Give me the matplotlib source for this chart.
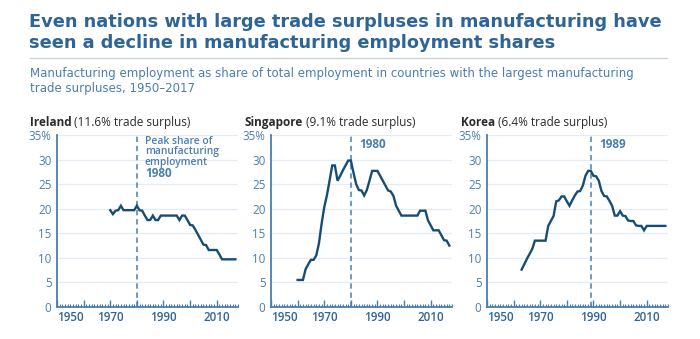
import matplotlib.pyplot as plt
from matplotlib.ticker import MultipleLocator

# data (manufacturing share of total employment, %)
ireland_years = list(range(1970, 2018))
ireland_share = [19.7, 18.9, 19.6, 19.7, 20.6, 19.7, 19.7, 19.7, 19.7, 19.7,
                 20.6, 19.7, 19.6, 18.6, 17.7, 17.7, 18.6, 17.7, 17.7, 18.6,
                 18.6, 18.6, 18.6, 18.6, 18.6, 18.6, 17.7, 18.6, 18.6, 17.7,
                 16.7, 16.6, 15.7, 14.7, 13.7, 12.7, 12.6, 11.6, 11.6, 11.6,
                 11.6, 10.7, 9.7, 9.7, 9.7, 9.7, 9.7, 9.7]

singapore_years = list(range(1960, 2018))
singapore_share = [5.5, 5.5, 5.5, 7.7, 8.7, 9.6, 9.6, 10.5, 12.9, 16.9,
                   20.3, 22.7, 25.7, 28.8, 28.8, 25.7, 26.7, 27.8, 28.8, 29.8,
                   29.8, 27.3, 25.0, 23.8, 23.7, 22.7, 23.8, 25.7, 27.7, 27.7,
                   27.7, 26.7, 25.7, 24.7, 23.7, 23.5, 22.6, 20.6, 19.6, 18.6,
                   18.6, 18.6, 18.6, 18.6, 18.6, 18.6, 19.6, 19.6, 19.6, 17.6,
                   16.6, 15.6, 15.6, 15.6, 14.6, 13.6, 13.5, 12.5]

korea_years = list(range(1963, 2018))
korea_share = [7.6, 8.7, 9.8, 10.8, 11.8, 13.5, 13.5, 13.5, 13.5, 13.5,
               16.5, 17.5, 18.5, 21.5, 21.7, 22.5, 22.5, 21.5, 20.6, 21.7,
               22.7, 23.5, 23.6, 24.7, 26.7, 27.7, 27.7, 26.7, 26.6, 25.7,
               23.6, 22.6, 22.5, 21.6, 20.6, 18.6, 18.6, 19.5, 18.6, 18.5,
               17.6, 17.5, 17.5, 16.6, 16.5, 16.5, 15.6, 16.5, 16.5, 16.5,
               16.5, 16.5, 16.5, 16.5, 16.5]

countries = ['Ireland', 'Singapore', 'Korea']
surplus = ['11.6%', '9.1%', '6.4%']
peak_years = [1980, 1980, 1989]
peak_note = ['Peak share of', 'manufacturing', 'employment']
series = [(ireland_years, ireland_share),
          (singapore_years, singapore_share),
          (korea_years, korea_share)]

W, H = 700, 339
TITLE = '#2f6596'
BLUE = '#4a7eb0'
LINE = '#174d72'
GRID = '#e4ebf2'
DARK = '#2b2b2b'
FONT = 'Open Sans'
WIDE = 'DejaVu Sans'

fig = plt.figure(figsize=(7, 3.39), dpi=100)


def fx(px):
    return px / W


def fy(py):
    return 1 - py / H


fig.text(fx(29), fy(27), 'Even nations with large trade surpluses in manufacturing have',
         fontsize=12.8, fontweight='bold', color=TITLE, family=WIDE, va='baseline')
fig.text(fx(29), fy(48), 'seen a decline in manufacturing employment shares',
         fontsize=12.8, fontweight='bold', color=TITLE, family=WIDE, va='baseline')
fig.add_artist(plt.Line2D([fx(30), fx(667)], [fy(58), fy(58)], color='#c9d3dc', lw=1))
fig.text(fx(30), fy(77), 'Manufacturing employment as share of total employment in countries with the largest manufacturing',
         fontsize=8.5, color=BLUE, family=WIDE, va='baseline')
fig.text(fx(30), fy(92), 'trade surpluses, 1950\u20132017',
         fontsize=8.5, color=BLUE, family=WIDE, va='baseline')

lefts = [57, 271, 487]
title_x = [30, 245, 461]
for i, (yrs, vals) in enumerate(series):
    ax = fig.add_axes([fx(lefts[i]), fy(307), 181 / W, 172 / H])
    ax.set_xlim(1950, 2018)
    ax.set_ylim(0, 35)
    for g in range(5, 36, 5):
        ax.axhline(g, color=GRID, lw=0.9, zorder=0)
    ax.plot(yrs, vals, color=LINE, lw=1.7, solid_joinstyle='miter', zorder=3)
    ax.axvline(peak_years[i], ymin=0, ymax=1, color=BLUE, lw=1.1,
               ls=(0, (3.5, 2.5)), zorder=2)

    for s in ['top', 'right']:
        ax.spines[s].set_visible(False)
    for s in ['left', 'bottom']:
        ax.spines[s].set_color(BLUE)
        ax.spines[s].set_linewidth(1.3)

    ax.set_yticks(range(0, 36, 5))
    ax.set_yticklabels(['0', '5', '10', '15', '20', '25', '30', '35%'])
    ax.tick_params(axis='y', length=0, pad=4, labelsize=8.4, labelcolor=BLUE)
    for lab in ax.get_yticklabels():
        lab.set_family(FONT)

    ax.xaxis.set_major_locator(MultipleLocator(10))
    ax.xaxis.set_minor_locator(MultipleLocator(1))
    ax.tick_params(axis='x', which='major', direction='in', length=5, width=1,
                   color=BLUE, pad=3, labelsize=8.4, labelcolor=TITLE)
    ax.tick_params(axis='x', which='minor', direction='in', length=2.5, width=0.8,
                   color=BLUE)
    ax.set_xticks(range(1950, 2020, 10))
    ax.set_xticklabels(['1950', '', '1970', '', '1990', '', '2010'])
    for j, lab in enumerate(ax.get_xticklabels()):
        lab.set_family(FONT)
        lab.set_fontweight('semibold')
        if j == 0:
            lab.set_horizontalalignment('left')

    t = fig.text(fx(title_x[i]), fy(126), countries[i], fontsize=8.5,
                 fontweight='bold', color=DARK, family=FONT, va='baseline')
    fig.canvas.draw()
    bb = t.get_window_extent()
    fig.text(bb.x1 / W + 0.004, fy(126), '(' + surplus[i] + ' trade surplus)',
             fontsize=8.5, color=DARK, family=FONT, va='baseline')

    if i == 0:
        for k, line in enumerate(peak_note):
            ax.text(peak_years[i] + 3, 33.6 - 2.05 * k, line, fontsize=7.4,
                    color=BLUE, family=FONT, fontweight='semibold', va='center')
        ax.text(peak_years[i] + 3, 27.2, str(peak_years[i]), fontsize=8.5,
                fontweight='bold', color=BLUE, family=FONT, va='center')
    else:
        ax.text(peak_years[i] + 3, 33, str(peak_years[i]), fontsize=8.5,
                fontweight='bold', color=BLUE, family=FONT, va='center')

fig.savefig('out.png', dpi=100, facecolor='white')
